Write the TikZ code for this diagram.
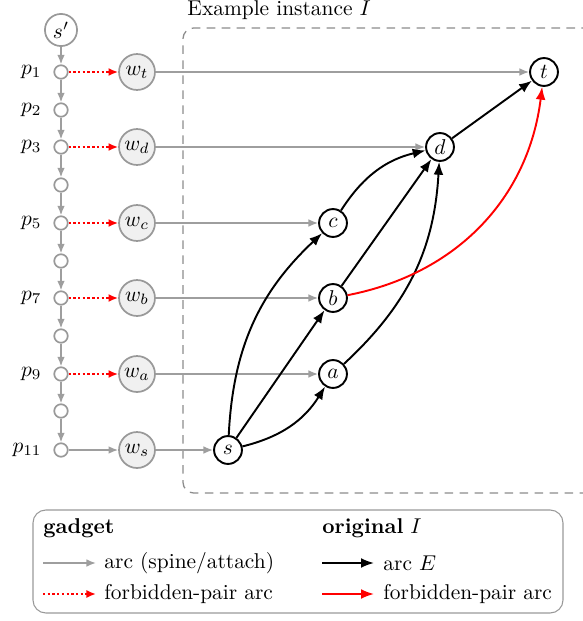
\documentclass[tikz,border=0pt]{standalone}
\usetikzlibrary{arrows.meta}
\begin{document}
\begin{tikzpicture}[x=0.467pt,y=-0.467pt,
  spinenode/.style={circle,draw=black!40,line width=0.8pt,fill=white,inner sep=0pt,minimum size=6.3pt},
  srcnode/.style={circle,draw=black!40,line width=0.8pt,fill=white,inner sep=0pt,minimum size=15pt},
  wnode/.style={circle,draw=black!40,line width=0.8pt,fill=black!6,inner sep=0pt,minimum size=16.8pt},
  inode/.style={circle,draw=black,line width=0.9pt,fill=white,inner sep=0pt,minimum size=13pt},
  garc/.style={draw=black!38,line width=0.75pt,-{Latex[length=4.5pt,width=3.6pt]}},
  farc/.style={draw=red,line width=1pt,dash pattern=on 1.1pt off 1.1pt,-{Latex[length=4.5pt,width=3.8pt]}},
  earc/.style={draw=black,line width=0.9pt,-{Latex[length=6pt,width=4.6pt]}},
  rarc/.style={draw=red,line width=0.9pt,-{Latex[length=6pt,width=4.6pt]}},
  plab/.style={anchor=east,inner sep=0pt},
  legtxt/.style={anchor=west,inner sep=0pt}
]
\useasboundingbox (0,0) rectangle (582,621);

% dashed instance box (open at the right edge)
\draw[black!45,line width=0.6pt,dash pattern=on 4pt off 3pt,rounded corners=5pt]
  (590,28) -- (183,28) -- (183,493) -- (590,493);
\node[anchor=west,inner sep=0pt] (title) at (187,10) {Example instance $I$};

% spine
\node[srcnode] (sp) at (61,30) {$s'$};
\foreach \i/\y in {1/72,2/110,3/147,4/185,5/223,6/261,7/298,8/336,9/374,10/411,11/450}{
  \node[spinenode] (p\i) at (61,\y) {};
}
\foreach \i in {1,2,3,5,7,9}{
  \node[plab] (lp\i) at (42,0 |- p\i) {$p_{\i}$};
}
\node[plab] (lp11) at (42,0 |- p11) {$p_{11}$};

\draw[garc] (sp) -- (p1);
\foreach \i/\j in {1/2,2/3,3/4,4/5,5/6,6/7,7/8,8/9,9/10,10/11}{
  \draw[garc] (p\i) -- (p\j);
}

% w nodes
\node[wnode] (wt) at (137,72) {$w_t$};
\node[wnode] (wd) at (137,147) {$w_d$};
\node[wnode] (wc) at (137,223) {$w_c$};
\node[wnode] (wb) at (137,298) {$w_b$};
\node[wnode] (wa) at (137,374) {$w_a$};
\node[wnode] (ws) at (137,450) {$w_s$};

% instance nodes
\node[inode] (s) at (228,450) {$s$};
\node[inode] (a) at (333,374) {$a$};
\node[inode] (b) at (333,298) {$b$};
\node[inode] (c) at (333,223) {$c$};
\node[inode] (d) at (440,147) {$d$};
\node[inode] (t) at (544,72) {$t$};

% forbidden-pair gadget arcs
\draw[farc] (p1) -- (wt);
\draw[farc] (p3) -- (wd);
\draw[farc] (p5) -- (wc);
\draw[farc] (p7) -- (wb);
\draw[farc] (p9) -- (wa);
\draw[garc] (p11) -- (ws);

% attach arcs
\draw[garc] (wt) -- (t);
\draw[garc] (wd) -- (d);
\draw[garc] (wc) -- (c);
\draw[garc] (wb) -- (b);
\draw[garc] (wa) -- (a);
\draw[garc] (ws) -- (s);

% instance arcs
\draw[earc] (s) to[bend right=22] (a);
\draw[earc] (s) -- (b);
\draw[earc] (s) to[bend left=22] (c);
\draw[earc] (c) to[bend left=22] (d);
\draw[earc] (b) -- (d);
\draw[earc] (a) to[bend right=22] (d);
\draw[earc] (d) -- (t);
\draw[rarc] (b) to[bend right=36] (t);

% legend
\draw[black!40,line width=0.5pt,rounded corners=6pt] (33,510) rectangle (563,613);
\node[legtxt] (lg1) at (43,528) {\textbf{gadget}};
\node[legtxt] (lg2) at (322,528) {\textbf{original} $I$};
\coordinate (l1a) at (43,563); \coordinate (l1b) at (96,563);
\coordinate (l2a) at (43,594); \coordinate (l2b) at (96,594);
\coordinate (l3a) at (322,563); \coordinate (l3b) at (374,563);
\coordinate (l4a) at (322,594); \coordinate (l4b) at (374,594);
\draw[garc] (l1a) -- (l1b);
\draw[farc] (l2a) -- (l2b);
\draw[earc] (l3a) -- (l3b);
\draw[rarc] (l4a) -- (l4b);
\node[legtxt] (lt1) at (104,563) {arc (spine/attach)};
\node[legtxt] (lt2) at (104,594) {forbidden-pair arc};
\node[legtxt] (lt3) at (383,563) {arc $E$};
\node[legtxt] (lt4) at (383,594) {forbidden-pair arc};
\end{tikzpicture}
\end{document}
